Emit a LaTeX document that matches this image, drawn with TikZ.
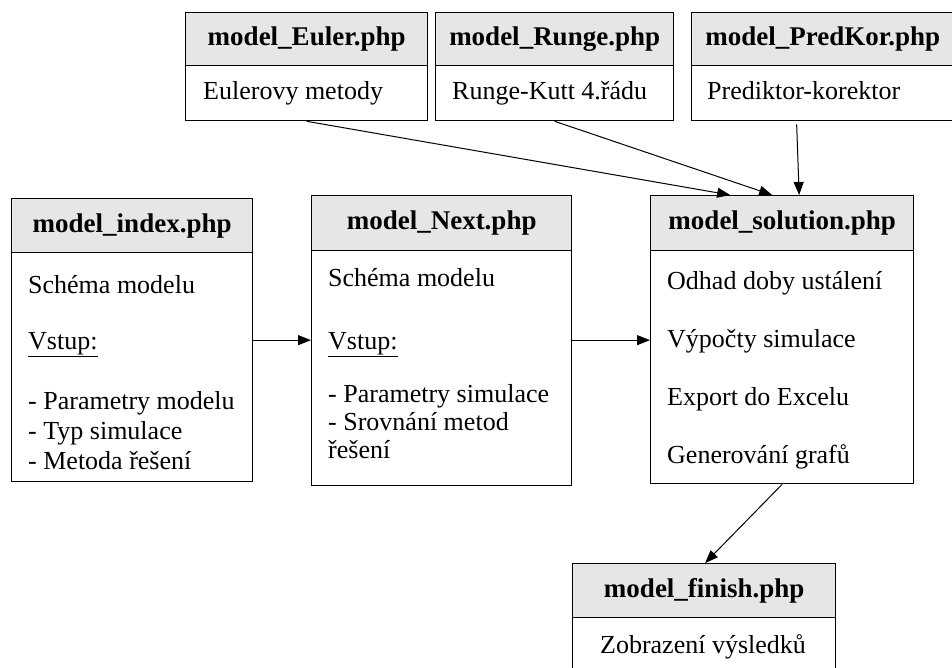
\documentclass[tikz,border=0pt]{standalone}
\usepackage{fontspec}
\setmainfont{Liberation Serif}
\usetikzlibrary{arrows.meta}
\definecolor{headgray}{RGB}{230,230,230}
\tikzset{
    php-head/.style = {draw, fill=headgray, line width=1.3pt, rectangle, inner sep=0pt, anchor=north west, font=\fontsize{27}{30}\selectfont\bfseries},
    php-body/.style = {draw, fill=white, line width=1.3pt, rectangle, inner sep=0pt, anchor=north west},
    php-text/.style = {anchor=base west, align=left, inner sep=0pt},
    flow/.style = {-{Triangle[length=13pt,width=10pt]}, line width=1pt},
}

\begin{document}
\begin{tikzpicture}[x=1pt, y=-1pt, font=\fontsize{26}{28}\selectfont]
\useasboundingbox (0,0) rectangle (952,668);

% numerical methods
\node[php-head, minimum width=242pt, minimum height=53pt] (euler-head) at (185,12) {model\_Euler.php};
\node[php-body, minimum width=242pt, minimum height=55pt] (euler-body) at (185,65) {};
\node[php-text] (euler-text) at (203,100) {Eulerovy metody};

\node[php-head, minimum width=238pt, minimum height=53pt] (runge-head) at (435,12) {model\_Runge.php};
\node[php-body, minimum width=238pt, minimum height=55pt] (runge-body) at (435,65) {};
\node[php-text] (runge-text) at (452,100) {Runge-Kutt 4.řádu};

\node[php-head, minimum width=262pt, minimum height=53pt] (predkor-head) at (691,12) {model\_PredKor.php};
\node[php-body, minimum width=262pt, minimum height=55pt] (predkor-body) at (691,65) {};
\node[php-text] (predkor-text) at (707,100) {Prediktor-korektor};

% main pages (base of each text block sits on its last line)
\node[php-head, minimum width=241pt, minimum height=54pt] (index-head) at (11,198) {model\_index.php};
\node[php-body, minimum width=241pt, minimum height=229pt] (index-body) at (11,252) {};
\node[php-text] (index-text) at (28,469) {Schéma modelu\\[28pt]
    \underline{Vstup:}\\[32pt]
    - Parametry modelu\\[2pt]
    - Typ simulace\\[2pt]
    - Metoda řešení};

\node[php-head, minimum width=260pt, minimum height=55pt] (next-head) at (311,195) {model\_Next.php};
\node[php-body, minimum width=260pt, minimum height=235pt] (next-body) at (311,250) {};
\node[php-text] (next-text) at (328,458) {Schéma modelu\\[35pt]
    \underline{Vstup:}\\[25pt]
    - Parametry simulace\\
    - Srovnání metod\\
    řešení};

\node[php-head, minimum width=263pt, minimum height=55pt] (solution-head) at (650,195) {model\_solution.php};
\node[php-body, minimum width=263pt, minimum height=233pt] (solution-body) at (650,250) {};
\node[php-text] (solution-text) at (667,463) {Odhad doby ustálení\\[30pt]
    Výpočty simulace\\[30pt]
    Export do Excelu\\[30pt]
    Generování grafů};

\node[php-head, minimum width=263pt, minimum height=54pt] (finish-head) at (572,563) {model\_finish.php};
\node[php-body, minimum width=263pt, minimum height=80pt] (finish-body) at (572,617) {};
\node[anchor=base, inner sep=0pt] (finish-text) at (703,653) {Zobrazení výsledků};

% links
\draw[flow] ([yshift=27pt]index-body.east) -- ([yshift=27pt]index-body.east -| next-body.west);
\draw[flow] ([yshift=28pt]next-body.east) -- ([yshift=28pt]next-body.east -| solution-body.west);
\draw[flow] (euler-body.south) -- ([xshift=-52pt]solution-head.north);
\draw[flow] (runge-body.south) -- ([xshift=-10pt]solution-head.north);
\draw[flow] ([xshift=-26pt,yshift=-3pt]predkor-body.south) -- ([xshift=17pt]solution-head.north);
\draw[flow] (solution-body.south) -- ([xshift=1pt]finish-head.north);
\end{tikzpicture}
\end{document}
